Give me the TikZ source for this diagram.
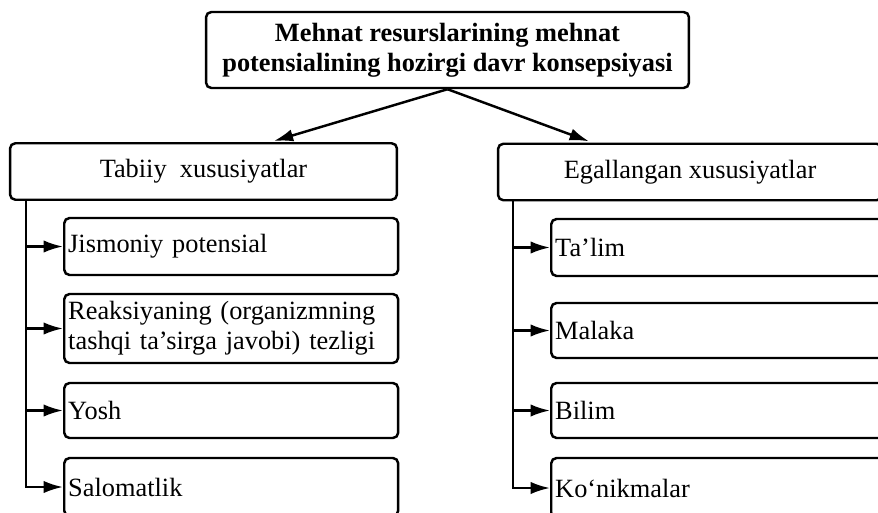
\documentclass[tikz,border=0pt]{standalone}
\usepackage{fontspec}
\setmainfont{Liberation Serif}
\usetikzlibrary{arrows.meta, calc, positioning}

\tikzset{
    blok/.style={draw, rounded corners=3pt, inner xsep=0.08cm,
        font=\fontsize{15}{17}\selectfont},
    sarlavha/.style={blok, minimum height=1.13cm, align=center},
    band/.style={blok, anchor=west, align=left},
}

\begin{document}
\begin{tikzpicture}[x=0.02cm, y=-0.02cm, line width=1.4pt,
    >={Latex[length=11pt, width=7pt]}]
    \useasboundingbox (0,0) rectangle (878,513);
    \clip (0,0) rectangle (878,513);

    % Bosh blok
    \node[blok, minimum width=9.66cm, minimum height=1.52cm, align=center,
        font=\fontsize{15}{17}\selectfont\bfseries] (bosh) at (447.5,50)
        {Mehnat resurslarining mehnat\\potensialining hozirgi davr konsepsiyasi};

    % Ikki yo'nalish
    \node[sarlavha, minimum width=7.74cm] (tabiiy) at (203.5,171.5) {Tabiiy~ xususiyatlar};
    \node[sarlavha, minimum width=7.68cm] (egal) at (690,172) {Egallangan xususiyatlar};

    \draw[->, shorten >=2pt] (bosh.south) -- ($(tabiiy.north west)!0.672!(tabiiy.north east)$);
    \draw[->, shorten >=2pt] (bosh.south) -- ($(egal.north west)!0.247!(egal.north east)$);

    % Tabiiy xususiyatlar
    \node[band, text width=6.52cm, minimum height=1.14cm] (jism) at (63,246.5) {Jismoniy potensial};
    \node[band, text width=6.52cm, minimum height=1.38cm] (reak) at (63,328.5)
        {Reaksiyaning (organizmning\\tashqi ta’sirga javobi) tezligi};
    \node[band, text width=6.52cm, minimum height=1.10cm] (yosh) at (63,410.5) {Yosh};
    \node[band, text width=6.52cm, minimum height=1.16cm] (salo) at (63,487) {Salomatlik};

    % Egallangan xususiyatlar
    \node[band, text width=6.54cm, minimum height=1.14cm] (talim) at (550,247.5) {Ta’lim};
    \node[band, text width=6.54cm, minimum height=1.10cm] (malaka) at (550,330.5) {Malaka};
    \node[band, text width=6.54cm, minimum height=1.10cm] (bilim) at (550,410.5) {Bilim};
    \node[band, text width=6.54cm, minimum height=1.20cm] (konik) at (550,488) {Ko‘nikmalar};

    % Tarmoqlar
    \coordinate (chap) at (26,200);
    \coordinate (ong) at (513,200);
    \foreach \b in {jism, reak, yosh, salo}
        \draw[->] (chap) |- (\b.west);
    \foreach \b in {talim, malaka, bilim, konik}
        \draw[->] (ong) |- (\b.west);
\end{tikzpicture}
\end{document}
